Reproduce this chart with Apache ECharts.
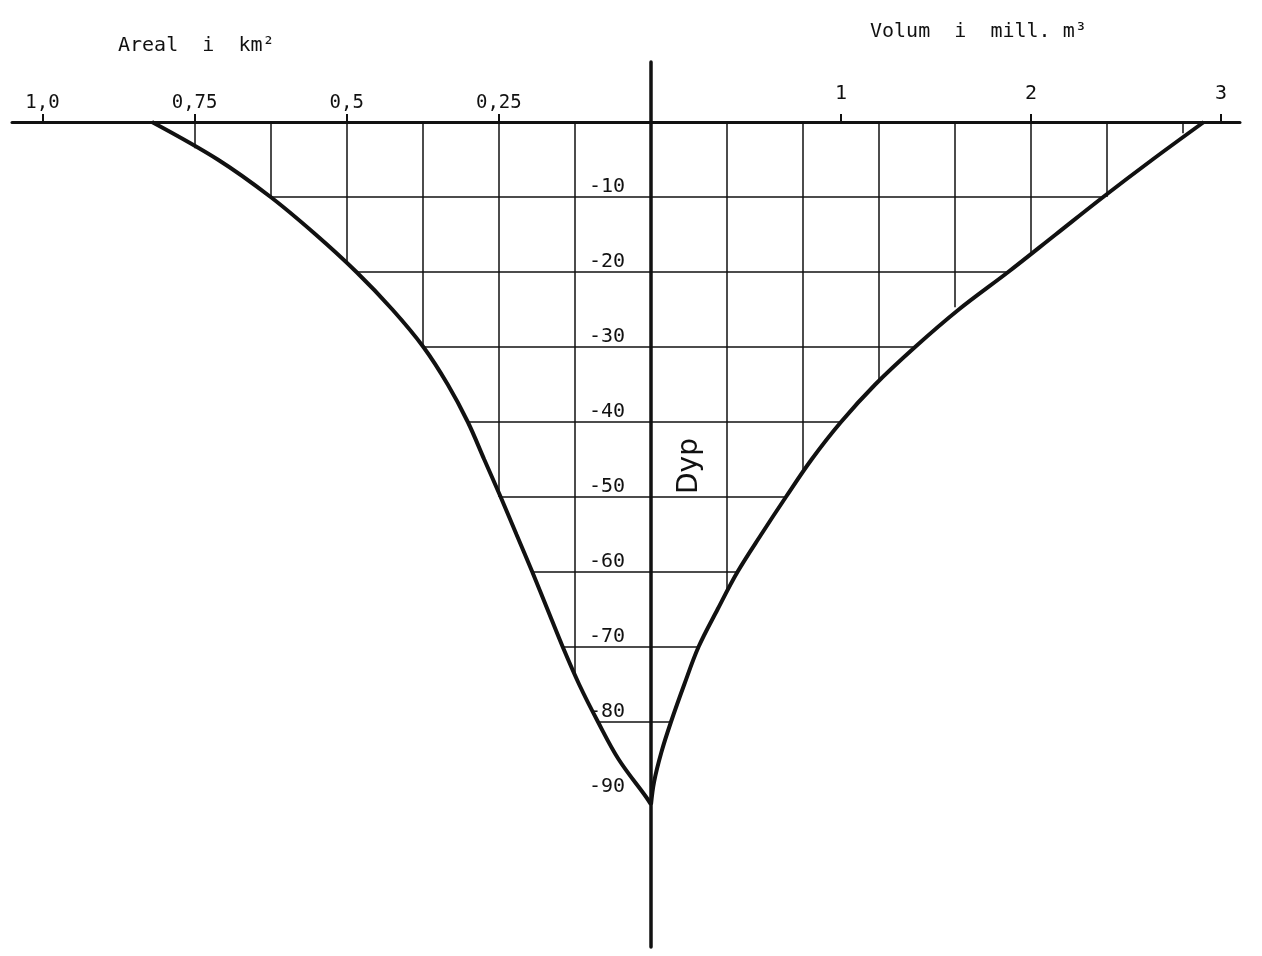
<!DOCTYPE html>
<html>
<head>
<meta charset="utf-8">
<script src="https://cdn.jsdelivr.net/npm/echarts@6/dist/echarts.min.js"></script>
<style>
  html, body { margin: 0; padding: 0; background: #fff; }
  #chart { width: 1262px; height: 956px; }
</style>
</head>
<body>
<div id="chart"></div>
<script>
// area curve: depth (m) and area (km2)
var areaDepths = [0, -5, -10, -15, -20, -25, -30, -35, -40, -45, -50, -55, -60, -65, -70, -75, -80, -85, -90, -91];
var areaValues = [0.82, 0.712, 0.625, 0.551, 0.484, 0.425, 0.374, 0.334, 0.301, 0.274, 0.247, 0.221, 0.195, 0.17, 0.145, 0.118, 0.087, 0.053, 0.008, 0];
// volume curve: depth (m) and volume (mill. m3)
var volumeDepths = [0, -5, -10, -15, -20, -25, -30, -35, -40, -45, -50, -55, -60, -65, -70, -75, -80, -84, -88, -91];
var volumeValues = [2.91, 2.64, 2.38, 2.13, 1.88, 1.62, 1.39, 1.18, 1.0, 0.845, 0.71, 0.58, 0.455, 0.35, 0.25, 0.175, 0.105, 0.055, 0.016, 0];

// hatch grid: vertical lines and the depth where each meets the curve
var areaGridX = [0.125, 0.25, 0.375, 0.5, 0.625, 0.75];
var areaGridEnd = [-73.7, -50, -30, -19, -10, -3.5];
var volumeGridX = [0.4, 0.8, 1.2, 1.6, 2.0, 2.4, 2.8];
var volumeGridEnd = [-62.5, -46.3, -34.3, -24.7, -17.5, -10, -1.5];
var hatchDepths = [-10, -20, -30, -40, -50, -60, -70, -80];

var areaTicks = [0.25, 0.5, 0.75, 1];
var volumeTicks = [1, 2, 3];
var depthLabels = [-10, -20, -30, -40, -50, -60, -70, -80, -90];

var ink = '#111';
var mono = 'DejaVu Sans Mono';

var leftHatch = [];
var rightHatch = [];
hatchDepths.forEach(function (d) {
  leftHatch.push({ coords: [[areaValues[areaDepths.indexOf(d)], d], [0, d]] });
  rightHatch.push({ coords: [[0, d], [volumeValues[volumeDepths.indexOf(d)], d]] });
});
areaGridX.forEach(function (x, i) {
  leftHatch.push({ coords: [[x, 0], [x, areaGridEnd[i]]] });
});
volumeGridX.forEach(function (x, i) {
  rightHatch.push({ coords: [[x, 0], [x, volumeGridEnd[i]]] });
});

var chart = echarts.init(document.getElementById('chart'));

chart.setOption({
  animation: false,
  backgroundColor: '#fff',
  grid: [
    { left: 12, width: 639, top: 62, height: 885 },
    { left: 651, width: 589, top: 62, height: 885 }
  ],
  xAxis: [
    {
      gridIndex: 0,
      type: 'value',
      min: 0,
      max: 1.05,
      inverse: true,
      position: 'top',
      axisLine: { onZero: true, lineStyle: { color: ink, width: 3 } },
      axisTick: { customValues: areaTicks, length: 8, lineStyle: { color: ink, width: 2 } },
      axisLabel: {
        customValues: areaTicks,
        margin: -51,
        color: ink,
        fontFamily: mono,
        fontSize: 19,
        formatter: function (v) { return v === 1 ? '1,0' : String(v).replace('.', ','); }
      },
      splitLine: { show: false }
    },
    {
      gridIndex: 1,
      type: 'value',
      min: 0,
      max: 3.1,
      position: 'top',
      axisLine: { onZero: true, lineStyle: { color: ink, width: 3 } },
      axisTick: { customValues: volumeTicks, length: 8, lineStyle: { color: ink, width: 2 } },
      axisLabel: {
        customValues: volumeTicks,
        margin: -42,
        color: ink,
        fontFamily: mono,
        fontSize: 20
      },
      splitLine: { show: false }
    }
  ],
  yAxis: [
    {
      gridIndex: 0,
      type: 'value',
      min: -110,
      max: 8,
      show: false,
      splitLine: { show: false }
    },
    {
      gridIndex: 1,
      type: 'value',
      min: -110,
      max: 8,
      interval: 10,
      position: 'left',
      axisLine: { show: true, lineStyle: { color: ink, width: 3.5 } },
      axisTick: { show: false },
      axisLabel: {
        customValues: depthLabels,
        margin: 26,
        verticalAlign: 'bottom',
        color: ink,
        fontFamily: mono,
        fontSize: 20
      },
      splitLine: { show: false }
    }
  ],
  graphic: [
    {
      type: 'text',
      left: 118,
      top: 36,
      style: { text: 'Areal  i  km²', fill: ink, font: '20px "DejaVu Sans Mono"' }
    },
    {
      type: 'text',
      left: 870,
      top: 22,
      style: { text: 'Volum  i  mill. m³', fill: ink, font: '20px "DejaVu Sans Mono"' }
    },
    {
      type: 'text',
      x: 690,
      y: 466,
      rotation: Math.PI / 2,
      style: { text: 'Dyp', fill: ink, font: '28px "DejaVu Sans"', align: 'center', verticalAlign: 'middle' }
    }
  ],
  series: [
    {
      type: 'lines',
      coordinateSystem: 'cartesian2d',
      xAxisIndex: 0,
      yAxisIndex: 0,
      silent: true,
      lineStyle: { color: ink, width: 1.5, opacity: 1 },
      data: leftHatch
    },
    {
      type: 'lines',
      coordinateSystem: 'cartesian2d',
      xAxisIndex: 1,
      yAxisIndex: 1,
      silent: true,
      lineStyle: { color: ink, width: 1.5, opacity: 1 },
      data: rightHatch
    },
    {
      type: 'line',
      xAxisIndex: 0,
      yAxisIndex: 0,
      smooth: 0.35,
      showSymbol: false,
      lineStyle: { color: ink, width: 4 },
      data: areaDepths.map(function (d, i) { return [areaValues[i], d]; }),
      z: 5
    },
    {
      type: 'line',
      xAxisIndex: 1,
      yAxisIndex: 1,
      smooth: 0.35,
      showSymbol: false,
      lineStyle: { color: ink, width: 4 },
      data: volumeDepths.map(function (d, i) { return [volumeValues[i], d]; }),
      z: 5
    }
  ]
});
</script>
</body>
</html>
